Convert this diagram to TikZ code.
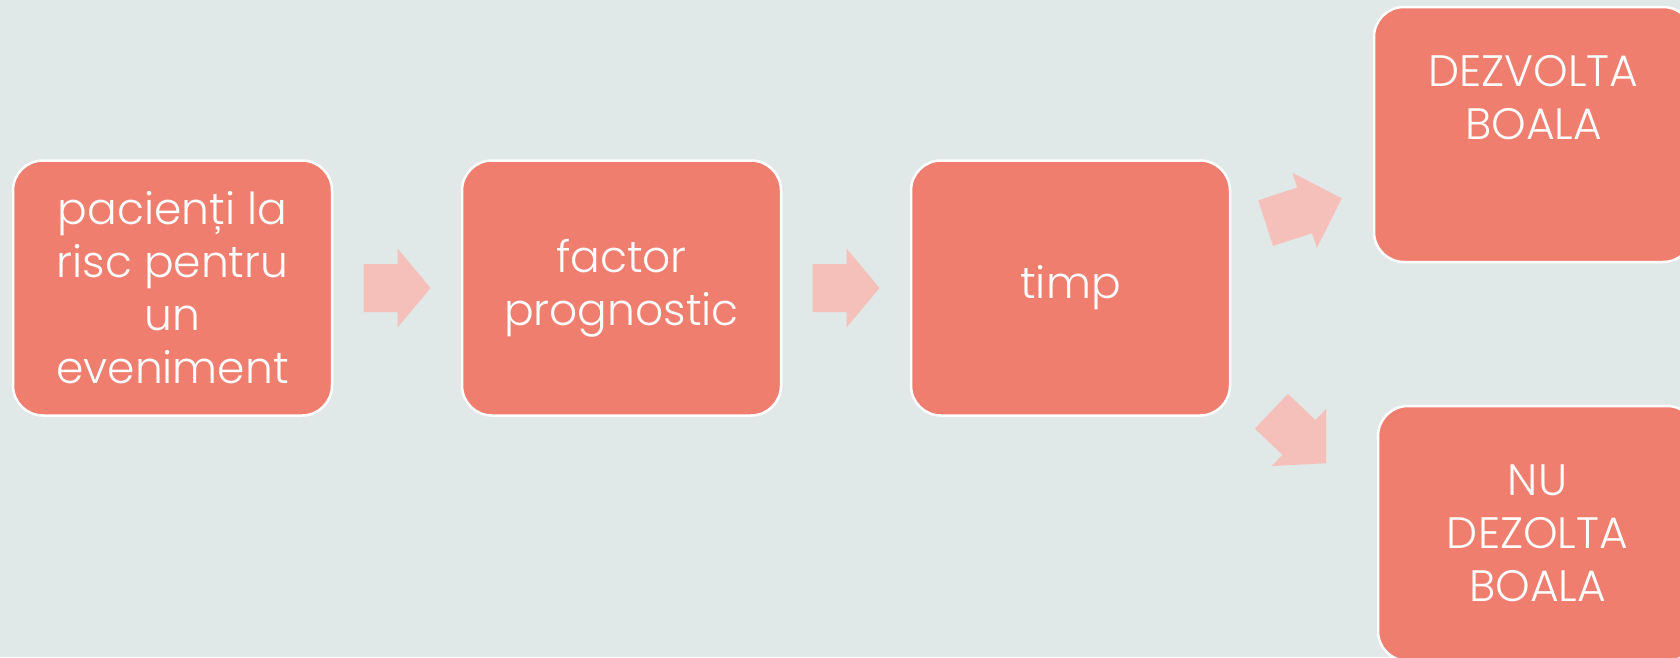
\documentclass[tikz,border=0pt]{standalone}
\usepackage{fontspec}
\setmainfont{Poppins Light}
\usetikzlibrary{calc}

\definecolor{bgcol}{RGB}{225,232,232}
\definecolor{boxcol}{RGB}{239,126,111}
\definecolor{arrcol}{RGB}{245,192,185}

% block arrow: centre, angle, length, head length
\newcommand{\blockarr}[4]{%
  \fill[arrcol, shift={(#1)}, rotate=#2]
    (-#3/2,-24) -- (#3/2-#4,-24) -- (#3/2-#4,-39.5) -- (#3/2,0)
    -- (#3/2-#4,39.5) -- (#3/2-#4,24) -- (-#3/2,24) -- cycle;}

\begin{document}
\begin{tikzpicture}[x=1pt, y=-1pt,
    box/.style={draw=white, line width=2.5pt, fill=boxcol, rounded corners=30pt,
        minimum width=319pt, minimum height=255pt, inner sep=0pt,
        align=center, text=white, font=\fontsize{44}{53}\selectfont}]

% ---- Background ----
            \fill[bgcol] (0,0) rectangle (1680,657);
            \useasboundingbox (0,0) rectangle (1680,657);
            \clip (0,0) rectangle (1680,657);

% ---- Main chain ----
            \node[box] (pac) at (172.5,288) {pacienți la\\risc pentru\\un\\eveniment};
            \node[box] (fac) at (621.5,288) {factor\\prognostic};
            \node[box] (tmp) at (1070.5,288) {timp};

% ---- Outcomes ----
            \node[box] (dez) at (1533.5,134.5) {DEZVOLTA\\BOALA\\\rule[-21pt]{0pt}{21pt}};
            \node[box] (nud) at (1537.5,533.5) {NU\\DEZOLTA\\BOALA};

% ---- Block arrows ----
            \coordinate (a1) at ($(pac.east)!0.5!(fac.west)$);
            \coordinate (a2) at ($(fac.east)!0.5!(tmp.west)$);
            \coordinate (a3) at (1303.7,210.7);
            \coordinate (a4) at (1298.7,437.2);
            \blockarr{a1}{0}{67}{33}
            \blockarr{a2}{0}{67}{33}
            \blockarr{a3}{18}{80}{39}
            \blockarr{a4}{-43.6}{75.5}{37.4}

\end{tikzpicture}
\end{document}
